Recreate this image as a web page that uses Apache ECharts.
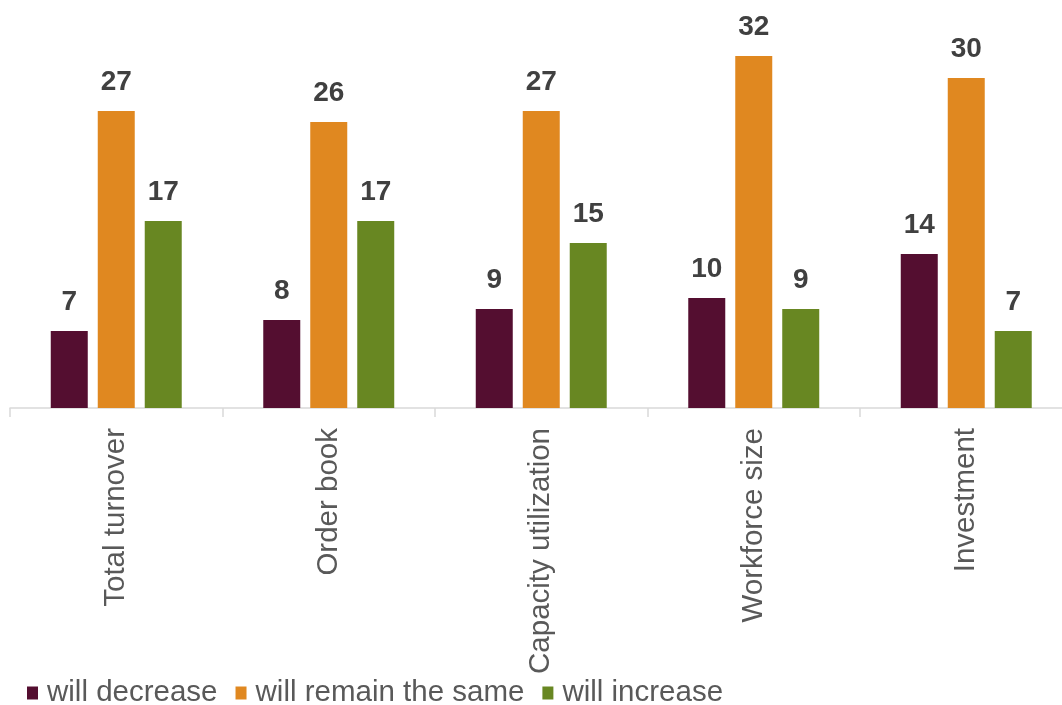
<!DOCTYPE html>
<html>
<head>
<meta charset="utf-8">
<script src="https://cdn.jsdelivr.net/npm/echarts@6/dist/echarts.min.js"></script>
<style>
html,body{margin:0;padding:0;background:#fff;}
#chart{width:1062px;height:705px;}
</style>
</head>
<body>
<div id="chart"></div>
<script>
const categories = ["Total turnover", "Order book", "Capacity utilization", "Workforce size", "Investment"];
const seriesNames = ["will decrease", "will remain the same", "will increase"];
const willDecrease = [7, 8, 9, 10, 14];
const willRemain = [27, 26, 27, 32, 30];
const willIncrease = [17, 17, 15, 9, 7];
const colors = ["#540E30", "#E08820", "#688722"];

const font = "'Liberation Sans', Arial, sans-serif";
const chart = echarts.init(document.getElementById('chart'));
const mk = (name, data, color) => ({
  name: name,
  type: 'bar',
  data: data,
  barWidth: 37,
  barGap: '27%',
  itemStyle: { color: color },
  label: {
    show: true,
    position: 'top',
    distance: 15,
    fontFamily: font,
    fontSize: 28,
    fontWeight: 'bold',
    color: '#404040'
  }
});
chart.setOption({
  animation: false,
  backgroundColor: '#ffffff',
  grid: { left: 10, top: 12, right: -10.5, height: 396, outerBoundsMode: 'none', containLabel: false },
  legend: {
    left: 22,
    top: 673,
    itemWidth: 11,
    itemHeight: 13,
    itemGap: 18,
    icon: 'rect',
    textStyle: { fontFamily: font, fontSize: 29.5, color: '#595959', padding: [0, 0, 0, 4] },
    data: seriesNames
  },
  xAxis: {
    type: 'category',
    data: categories,
    axisLine: { lineStyle: { color: '#D9D9D9', width: 1.5 } },
    axisTick: { show: true, length: 9, lineStyle: { color: '#D9D9D9', width: 1.5 } },
    axisLabel: { rotate: 90, margin: 20, fontFamily: font, fontSize: 29.5, color: '#595959', interval: 0 }
  },
  yAxis: {
    type: 'value',
    min: 0,
    max: 36,
    show: false,
    splitLine: { show: false }
  },
  series: [
    mk(seriesNames[0], willDecrease, colors[0]),
    mk(seriesNames[1], willRemain, colors[1]),
    mk(seriesNames[2], willIncrease, colors[2])
  ]
});
</script>
</body>
</html>
